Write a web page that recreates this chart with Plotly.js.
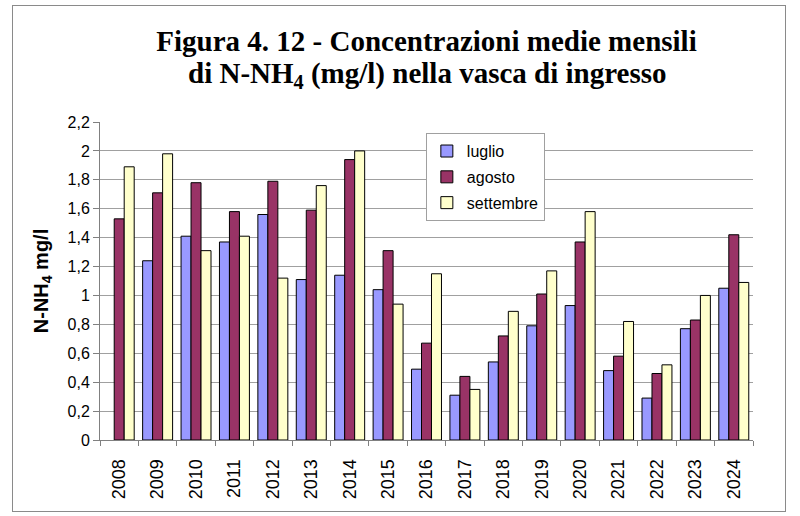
<!DOCTYPE html>
<html>
<head>
<meta charset="utf-8">
<script src="https://cdn.plot.ly/plotly-3.0.1.min.js"></script>
<style>
  html, body { margin: 0; padding: 0; background: #ffffff; }
  #wrap { position: relative; width: 800px; height: 516px; }
  #chart { position: absolute; left: 0; top: 0; width: 800px; height: 516px; }
  #frame { position: absolute; left: 12px; top: 5px; width: 772px; height: 505px;
           border: 1px solid #8a8a8a; pointer-events: none; }
</style>
</head>
<body>
<div id="wrap">
  <div id="chart"></div>
  <div id="frame"></div>
</div>
<script>
// ---- data ----
const years = ["2008","2009","2010","2011","2012","2013","2014","2015","2016",
               "2017","2018","2019","2020","2021","2022","2023","2024"];
const luglio    = [null, 1.24, 1.41, 1.37, 1.56, 1.11, 1.14, 1.04, 0.49, 0.31, 0.54, 0.79, 0.93, 0.48, 0.29, 0.77, 1.05];
const agosto    = [1.53, 1.71, 1.78, 1.58, 1.79, 1.59, 1.94, 1.31, 0.67, 0.44, 0.72, 1.01, 1.37, 0.58, 0.46, 0.83, 1.42];
const settembre = [1.89, 1.98, 1.31, 1.41, 1.12, 1.76, 2.00, 0.94, 1.15, 0.35, 0.89, 1.17, 1.58, 0.82, 0.52, 1.00, 1.09];
const seriesNames = ["luglio", "agosto", "settembre"];
const titleLine1 = "Figura 4. 12 - Concentrazioni medie mensili";
const titleLine2 = "di N-NH<sub>4</sub> (mg/l) nella vasca di ingresso";
const yTitle = "N-NH<sub>4</sub> mg/l";

// ---- styles ----
const colors = ["#9999FF", "#993366", "#FFFFCC"];
const sans = "Liberation Sans, Arial, sans-serif";
const serif = "Liberation Serif, Times New Roman, serif";

const values = [luglio, agosto, settembre];
const traces = values.map((v, i) => ({
  type: "bar",
  name: seriesNames[i],
  legendgroup: "g" + i,
  x: years,
  y: v,
  marker: { color: colors[i], line: { color: "#000000", width: 1 } },
  hoverinfo: "x+y+name"
}));

const layout = {
  width: 800,
  height: 516,
  margin: { l: 100, r: 47, t: 122, b: 76 },
  paper_bgcolor: "rgba(0,0,0,0)",
  plot_bgcolor: "#ffffff",
  separators: ",.",
  barmode: "group",
  bargap: 0.22,
  bargroupgap: 0,
  font: { family: sans, color: "#000000", size: 16 },
  title: {
    text: "<b>" + titleLine1 + "</b>",
    font: { family: serif, size: 29, color: "#000000" },
    xref: "paper", x: 0.5, xanchor: "center",
    yref: "container", y: 1 - 31 / 516, yanchor: "top"
  },
  annotations: [{
    text: "<b>" + titleLine2 + "</b>",
    font: { family: serif, size: 29, color: "#000000" },
    xref: "paper", x: 0.5, xanchor: "center",
    yref: "paper", y: 1.086, yanchor: "bottom",
    showarrow: false
  }],
  xaxis: {
    type: "category",
    tickangle: -90,
    tickfont: { family: sans, size: 18, color: "#000000" },
    ticklabelstandoff: 11,
    showline: true, linecolor: "#808080", linewidth: 1,
    ticks: "outside", tickson: "boundaries", ticklen: 5, tickcolor: "#808080",
    showgrid: false, zeroline: false, fixedrange: true
  },
  yaxis: {
    range: [0, 2.2],
    dtick: 0.2,
    tick0: 0,
    tickfont: { family: sans, size: 16, color: "#000000" },
    showline: true, linecolor: "#808080", linewidth: 1,
    ticks: "outside", ticklen: 6, tickcolor: "#808080",
    showgrid: true, gridcolor: "#a0a0a0", gridwidth: 1,
    zeroline: false, fixedrange: true,
    title: {
      text: "<b>" + yTitle + "</b>",
      font: { family: sans, size: 20, color: "#000000" },
      standoff: 13
    }
  },
  legend: {
    x: 0.499, xanchor: "left",
    y: 0.965, yanchor: "top",
    bgcolor: "#ffffff",
    bordercolor: "#a0a0a0",
    borderwidth: 1,
    font: { family: sans, size: 16, color: "#000000" },
    traceorder: "grouped",
    tracegroupgap: 2,
    itemwidth: 30
  },
  showlegend: true
};

Plotly.newPlot("chart", traces, layout, { displayModeBar: false, staticPlot: true });
</script>
</body>
</html>
